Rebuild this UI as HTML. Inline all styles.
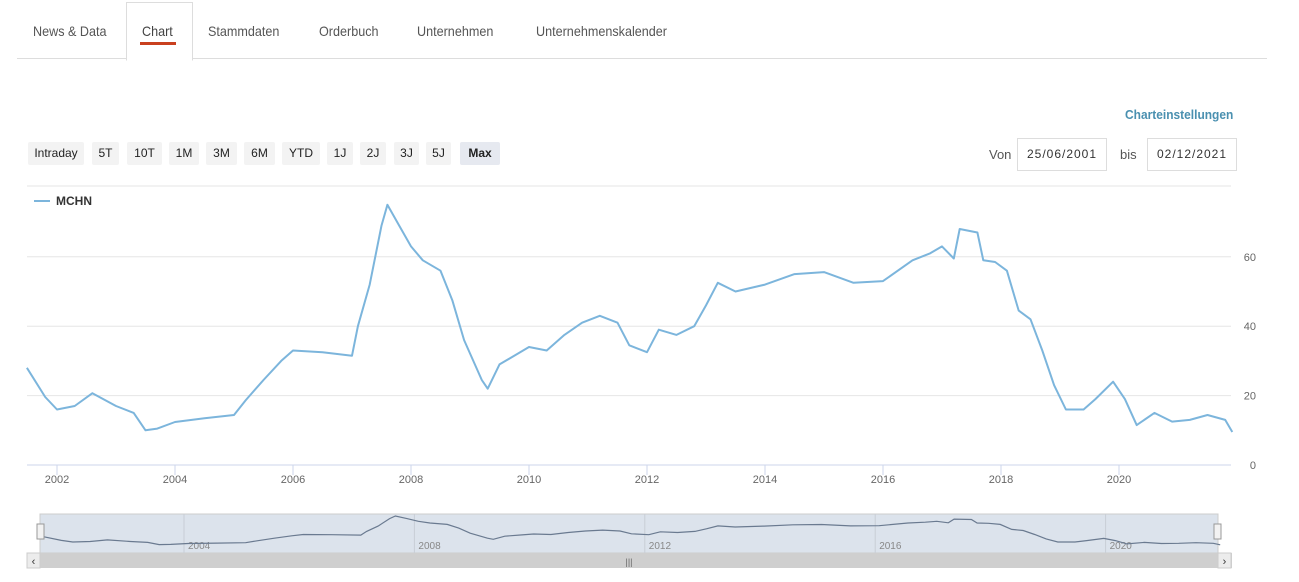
<!DOCTYPE html>
<html><head><meta charset="utf-8">
<style>
body{margin:0;width:1299px;height:582px;background:#fff;font-family:"Liberation Sans",sans-serif;position:relative;overflow:hidden}
.tabs{position:absolute;left:17px;top:0;width:1250px;height:58px;border-bottom:1px solid #ddd}
.tab{position:absolute;top:23px;font-size:14px;color:#555;transform:scaleX(0.9);transform-origin:left top;white-space:nowrap}
.tab.active{color:#444}
.activebox{position:absolute;left:126px;top:2px;width:65px;height:57px;border:1px solid #ddd;border-bottom:1px solid #fff;background:#fff}
.btn{position:absolute;top:142px;height:23px;line-height:23px;font-size:12px;color:#222;background:#f3f3f3;border-radius:2px;text-align:center}
.btn.sel{background:#e6e9f0;font-weight:bold}
.date{position:absolute;top:138px;width:88px;height:31px;border:1px solid #ddd;font-size:12px;color:#333;line-height:31px;text-align:center;letter-spacing:1px}
</style></head><body>
<div class="tabs"></div>
<div class="activebox"></div>
<div class="tab" style="left:33px">News &amp; Data</div>
<div class="tab active" style="left:142px">Chart</div>
<div style="position:absolute;left:140px;top:42px;width:36px;height:3px;background:#c9401f"></div>
<div class="tab" style="left:208px">Stammdaten</div>
<div class="tab" style="left:319px">Orderbuch</div>
<div class="tab" style="left:417px">Unternehmen</div>
<div class="tab" style="left:536px">Unternehmenskalender</div>
<div style="position:absolute;left:1125px;top:107px;font-size:13px;font-weight:bold;color:#4a90b0;transform:scaleX(0.92);transform-origin:left top">Charteinstellungen</div>
<div class="btn" style="left:28px;width:56px">Intraday</div>
<div class="btn" style="left:92px;width:27px">5T</div>
<div class="btn" style="left:127px;width:35px">10T</div>
<div class="btn" style="left:169px;width:30px">1M</div>
<div class="btn" style="left:206px;width:31px">3M</div>
<div class="btn" style="left:244px;width:31px">6M</div>
<div class="btn" style="left:282px;width:38px">YTD</div>
<div class="btn" style="left:327px;width:26px">1J</div>
<div class="btn" style="left:360px;width:26px">2J</div>
<div class="btn" style="left:394px;width:25px">3J</div>
<div class="btn" style="left:426px;width:25px">5J</div>
<div class="btn sel" style="left:460px;width:40px">Max</div>
<div style="position:absolute;left:989px;top:147px;font-size:13px;color:#555">Von</div>
<div class="date" style="left:1017px">25/06/2001</div>
<div style="position:absolute;left:1120px;top:147px;font-size:13px;color:#555">bis</div>
<div class="date" style="left:1147px">02/12/2021</div>
<svg id="chart" width="1299" height="582" style="position:absolute;left:0;top:0"></svg>
<script>
const years=[2001.49,2001.8,2002.0,2002.3,2002.6,2003.0,2003.3,2003.5,2003.7,2004.0,2004.5,2005.0,2005.2,2005.5,2005.8,2006.0,2006.5,2007.0,2007.1,2007.3,2007.5,2007.6,2007.8,2008.0,2008.2,2008.5,2008.7,2008.9,2009.2,2009.3,2009.5,2009.8,2010.0,2010.3,2010.6,2010.9,2011.2,2011.5,2011.7,2012.0,2012.2,2012.5,2012.8,2013.0,2013.2,2013.5,2014.0,2014.5,2015.0,2015.5,2016.0,2016.5,2016.8,2017.0,2017.2,2017.3,2017.6,2017.7,2017.9,2018.1,2018.3,2018.5,2018.7,2018.9,2019.1,2019.4,2019.6,2019.9,2020.1,2020.3,2020.6,2020.9,2021.2,2021.5,2021.8,2021.92];
const prices=[28,19.6,16,17,20.7,17,15,10,10.5,12.4,13.5,14.4,18.7,24.5,30,33,32.5,31.5,40,52,69,75,69,63,59,56,47.5,36,24.5,22,29,32,34,33,37.5,41,43,41,34.5,32.5,39,37.5,40,46,52.5,50,52,55,55.6,52.5,53,59,61,63,59.5,68,67,59,58.5,56,44.5,42,33,23,16,16,19,24,19,11.5,15,12.5,13,14.4,13,9.5];
const yTicks=[0,20,40,60];
const xTicks=[2002,2004,2006,2008,2010,2012,2014,2016,2018,2020];
const navTicks=[2004,2008,2012,2016,2020];
const svg=document.getElementById('chart');const NS='http://www.w3.org/2000/svg';
function mk(t,a,p){const e=document.createElementNS(NS,t);for(const k in a)e.setAttribute(k,a[k]);(p||svg).appendChild(e);return e;}
const X=y=>57+(y-2002)*59, Y=v=>465-v*3.47;
const NX=y=>188+(y-2004)*57.6, NY=v=>549-v*0.44;
let g=mk('line',{x1:27,x2:1231,y1:186,y2:186,stroke:'#e6e6e6'});

yTicks.forEach(v=>{
 const l=mk('line',{x1:27,x2:1231,y1:Y(v),y2:Y(v),stroke:v===0?'#ccd6eb':'#e6e6e6'});
 
 const t=mk('text',{x:1256,y:Y(v)+4,'text-anchor':'end','font-size':11,fill:'#666','font-family':'Liberation Sans'});t.textContent=v;
 
});
xTicks.forEach(y=>{
 const l=mk('line',{x1:X(y),x2:X(y),y1:465,y2:475,stroke:'#ccd6eb'});
 
 const t=mk('text',{x:X(y),y:483,'text-anchor':'middle','font-size':11,fill:'#666','font-family':'Liberation Sans'});t.textContent=y;
 
});
const pts=years.map((y,i)=>X(y).toFixed(1)+','+Y(prices[i]).toFixed(1)).join(' ');
const line=mk('polyline',{points:pts,fill:'none',stroke:'#7cb5dc','stroke-width':2,'stroke-linejoin':'round'});

const lg=mk('line',{x1:34,x2:50,y1:201,y2:201,stroke:'#7cb5dc','stroke-width':2});

const lt=mk('text',{x:56,y:205,'font-size':12,'font-weight':'bold',fill:'#333','font-family':'Liberation Sans'});lt.textContent='MCHN';

const nb=mk('rect',{x:40,y:514,width:1178,height:39,fill:'#dce3ec',stroke:'#ccc'});

navTicks.forEach(y=>{
 const l=mk('line',{x1:NX(y)-4,x2:NX(y)-4,y1:514,y2:553,stroke:'#c8ced6'});
 
 const t=mk('text',{x:NX(y),y:549,'font-size':10,fill:'#888','font-family':'Liberation Sans'});t.textContent=y;
 
});
const npts=years.map((y,i)=>NX(y).toFixed(1)+','+NY(prices[i]).toFixed(1)).join(' ');
const nl=mk('polyline',{points:npts,fill:'none',stroke:'#6a7a90','stroke-width':1.2});

[[37,524],[1214,524]].forEach(([x,y])=>{const h=mk('rect',{x:x,y:y,width:7,height:15,fill:'#f2f2f2',stroke:'#999'});
 });
const sb=mk('rect',{x:27,y:553,width:1205,height:15,fill:'#cfcfcf'});

[[27,'‹'],[1218,'›']].forEach(([x,c])=>{const r=mk('rect',{x:x,y:553,width:13,height:15,fill:'#ececec',stroke:'#ccc'});
 
 const t=mk('text',{x:x+6.5,y:565,'text-anchor':'middle','font-size':11,fill:'#333'});t.textContent=c;
 });
const gr=mk('text',{x:629,y:565,'text-anchor':'middle','font-size':9,fill:'#666'});gr.textContent='|||';

</script>
</body></html>
